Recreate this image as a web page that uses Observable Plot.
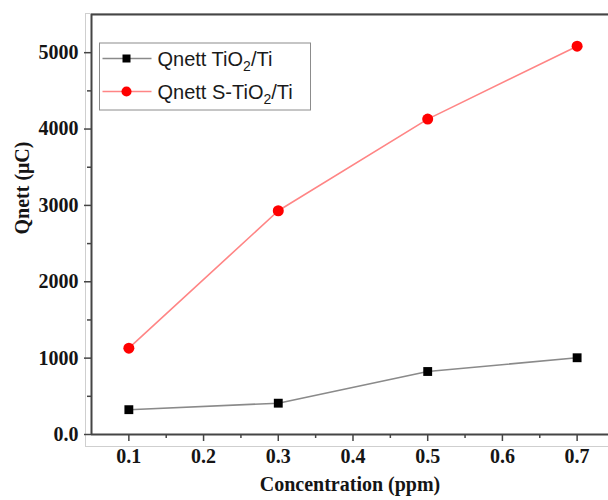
<!DOCTYPE html>
<html>
<head>
<meta charset="utf-8">
<script src="https://cdn.jsdelivr.net/npm/d3@7"></script>
<script src="https://cdn.jsdelivr.net/npm/@observablehq/plot@0.6"></script>
<style>
  html, body { margin: 0; padding: 0; background: #fff; }
  #chart { width: 608px; height: 500px; overflow: hidden; }
</style>
</head>
<body>
<div id="chart"></div>
<script>
// ---- data ----
const concentration = [0.1, 0.3, 0.5, 0.7];
const qnettTiO2 = [325, 410, 825, 1005];
const qnettSTiO2 = [1130, 2930, 4130, 5085];
const seriesLabels = [["Qnett TiO", "2", "/Ti"], ["Qnett S-TiO", "2", "/Ti"]];
const xTicks = [0.1, 0.2, 0.3, 0.4, 0.5, 0.6, 0.7];
const xMinorTicks = [0.15, 0.25, 0.35, 0.45, 0.55, 0.65];
const yTicks = [0, 1000, 2000, 3000, 4000, 5000];
const yMinorTicks = [500, 1500, 2500, 3500, 4500];
const xLabel = "Concentration (ppm)";
const yLabel = "Qnett (\u03bcC)";

const rowsA = concentration.map((c, i) => ({c, q: qnettTiO2[i]}));
const rowsB = concentration.map((c, i) => ({c, q: qnettSTiO2[i]}));

const serif = "'Liberation Serif', 'Times New Roman', serif";
const axisColor = "#454545";

const plot = Plot.plot({
  width: 608,
  height: 500,
  marginLeft: 91,
  marginRight: 0,
  marginTop: 14,
  marginBottom: 66,
  x: {domain: [0.05, 0.742], label: null},
  y: {domain: [0, 5500], label: null},
  style: {fontFamily: serif, fontSize: "20px", fontWeight: "bold", color: "#151515", background: "#fff", overflow: "visible"},
  marks: [
    Plot.frame({stroke: "#cfcfcf", strokeWidth: 1, insetLeft: -6, insetBottom: -12, insetTop: -1, insetRight: -30}),
    Plot.axisX(xTicks, {tickSize: 7, tickPadding: 7, tickFormat: d => d.toFixed(1), stroke: axisColor, strokeWidth: 1.5, label: null}),
    Plot.axisX(xMinorTicks, {tickSize: 4, tickFormat: () => "", stroke: axisColor, strokeWidth: 1.5, label: null}),
    Plot.axisY(yTicks, {tickSize: 7, tickPadding: 6, tickFormat: d => d === 0 ? "0.0" : String(d), stroke: axisColor, strokeWidth: 1.5, label: null}),
    Plot.axisY(yMinorTicks, {tickSize: 4, tickFormat: () => "", stroke: axisColor, strokeWidth: 1.5, label: null}),
    Plot.ruleY([0], {stroke: axisColor, strokeWidth: 2}),
    Plot.ruleY([5500], {stroke: axisColor, strokeWidth: 2}),
    Plot.ruleX([0.05], {stroke: axisColor, strokeWidth: 2}),
    Plot.line(rowsA, {x: "c", y: "q", stroke: "#8a8a8a", strokeWidth: 1.6}),
    Plot.dot(rowsA, {x: "c", y: "q", symbol: "square", r: 5, fill: "#000", stroke: null}),
    Plot.line(rowsB, {x: "c", y: "q", stroke: "#ff8585", strokeWidth: 1.6}),
    Plot.dot(rowsB, {x: "c", y: "q", symbol: "circle", r: 5.5, fill: "#ff0000", stroke: null}),
    Plot.text([xLabel], {frameAnchor: "bottom", dy: 56, fontFamily: serif, fontWeight: "bold", fontSize: 20, fill: "#151515"}),
    Plot.text([yLabel], {frameAnchor: "left", dx: -69, dy: 10, rotate: -90, fontFamily: serif, fontWeight: "bold", fontSize: 20, fill: "#151515"})
  ]
});

// ---- legend (drawn into the same SVG) ----
const svg = d3.select(plot);
const lg = svg.append("g").attr("transform", "translate(99.5,43)");
lg.append("rect").attr("width", 211).attr("height", 67).attr("fill", "#fff").attr("stroke", "#8c8c8c").attr("stroke-width", 1);
const legendStyles = [
  {line: "#8a8a8a", fill: "#000", symbol: d3.symbolSquare, size: 64},
  {line: "#ff8585", fill: "#ff0000", symbol: d3.symbolCircle, size: 80}
];
seriesLabels.forEach((parts, i) => {
  const y = 15.5 + i * 33;
  const s = legendStyles[i];
  lg.append("line").attr("x1", 3).attr("x2", 52).attr("y1", y).attr("y2", y).attr("stroke", s.line).attr("stroke-width", 1.6);
  lg.append("path").attr("d", d3.symbol(s.symbol, s.size)()).attr("transform", `translate(27,${y})`).attr("fill", s.fill);
  const t = lg.append("text").attr("x", 58).attr("y", y).attr("dy", "0.36em").attr("text-anchor", "start")
    .attr("font-family", "'Liberation Sans', Arial, sans-serif").attr("font-size", 20).attr("font-weight", "normal").attr("fill", "#1a1a1a");
  t.append("tspan").text(parts[0]);
  t.append("tspan").attr("font-size", 14).attr("dy", 5).text(parts[1]);
  t.append("tspan").attr("dy", -5).text(parts[2]);
});

document.getElementById("chart").appendChild(plot);
</script>
</body>
</html>
